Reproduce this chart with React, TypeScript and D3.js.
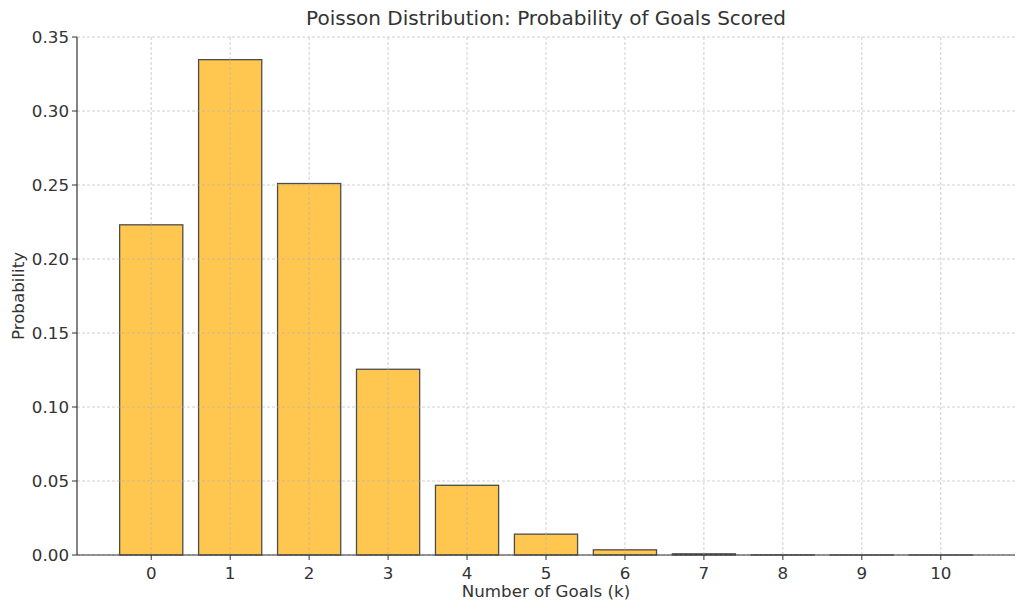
import * as d3 from "d3";

const goals = [0, 1, 2, 3, 4, 5, 6, 7, 8, 9, 10];
const probability = [0.2231, 0.3347, 0.251, 0.1255, 0.0471, 0.0141, 0.0035, 0.0008, 0.0001, 0.00002, 0.000004];
const yTicks = [0, 0.05, 0.1, 0.15, 0.2, 0.25, 0.3, 0.35];

const width = 1024;
const height = 611;
const margin = { top: 37, right: 9, bottom: 56, left: 77 };
const font = "DejaVu Sans, sans-serif";
const ink = "#333333";

export default function App() {
  const x = d3
    .scaleLinear()
    .domain([-0.94, 10.94])
    .range([margin.left, width - margin.right]);

  const y = d3
    .scaleLinear()
    .domain([0, 0.35])
    .range([height - margin.bottom, margin.top]);

  const barW = x(0.8) - x(0);
  const [x0, x1] = x.range();
  const [y0, y1] = y.range();

  return (
    <svg
      width={width}
      height={height}
      style={{ position: "absolute", left: 0, top: 0, background: "#fff" }}
      fontFamily={font}
    >
      {/* bars */}
      {goals.map((g, i) => (
        <rect
          key={g}
          x={x(g - 0.4)}
          y={y(probability[i])}
          width={barW}
          height={y0 - y(probability[i])}
          fill="#ffc74f"
          stroke="#4d4d4d"
          strokeWidth={1.3}
        />
      ))}

      {/* grid */}
      {yTicks.map((t) => (
        <line key={"gy" + t} x1={x0} x2={x1} y1={y(t)} y2={y(t)} stroke="#b0b0b0" strokeOpacity={0.6} strokeDasharray="3,2" />
      ))}
      {goals.map((g) => (
        <line key={"gx" + g} x1={x(g)} x2={x(g)} y1={y0} y2={y1} stroke="#b0b0b0" strokeOpacity={0.6} strokeDasharray="3,2" />
      ))}

      {/* axes */}
      <line x1={x0} x2={x0} y1={y0} y2={y1} stroke={ink} strokeWidth={1.2} />
      <line x1={x0} x2={x1} y1={y0} y2={y0} stroke={ink} strokeWidth={1.2} />

      {yTicks.map((t) => (
        <g key={"ty" + t}>
          <line x1={x0 - 5} x2={x0} y1={y(t)} y2={y(t)} stroke={ink} />
          <text x={x0 - 8} y={y(t)} dy="0.35em" textAnchor="end" fontSize={16.7} fill={ink}>
            {t.toFixed(2)}
          </text>
        </g>
      ))}
      {goals.map((g) => (
        <g key={"tx" + g}>
          <line x1={x(g)} x2={x(g)} y1={y0} y2={y0 + 5} stroke={ink} />
          <text x={x(g)} y={y0 + 24} textAnchor="middle" fontSize={16.7} fill={ink}>
            {g}
          </text>
        </g>
      ))}

      <text x={(x0 + x1) / 2} y={y0 + 42} textAnchor="middle" fontSize={16.7} fill={ink}>
        Number of Goals (k)
      </text>
      <text
        transform={`translate(24,${(y0 + y1) / 2}) rotate(-90)`}
        textAnchor="middle"
        fontSize={16.7}
        fill={ink}
      >
        Probability
      </text>
      <text x={(x0 + x1) / 2} y={25} textAnchor="middle" fontSize={20} fill={ink}>
        Poisson Distribution: Probability of Goals Scored
      </text>
    </svg>
  );
}
